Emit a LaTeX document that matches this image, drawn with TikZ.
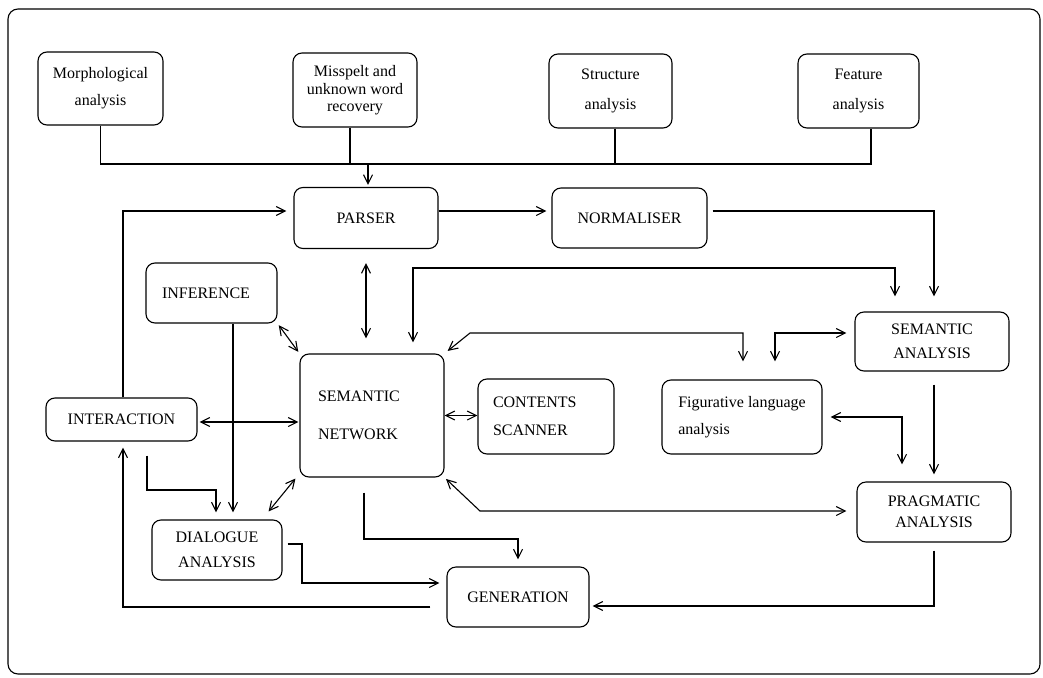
\documentclass[tikz,border=0pt]{standalone}
\usepackage{fontspec}
\setmainfont{Liberation Serif}
\usepackage{tikz}
\usetikzlibrary{arrows.meta,positioning,calc}

\begin{document}
\begin{tikzpicture}[
  x=1pt, y=1pt, line width=1.1pt,
  box/.style={draw, rounded corners=9pt, align=center, inner sep=0pt,
    font=\fontsize{16}{19}\selectfont},
  lbox/.style={box, align=left, inner xsep=16pt},
  flow/.style={-{Straight Barb[length=9pt,width=9pt]}},
  both/.style={{Straight Barb[length=9pt,width=9pt]}-{Straight Barb[length=9pt,width=9pt]}}
]
\useasboundingbox (0,0) rectangle (1043,-677);
\draw[rounded corners=10pt] (8,-9) rectangle (1040,-674);

% input modules
\node[box, minimum width=125pt, minimum height=73pt] (morph) at (100.5,-88.5) {Morphological\\[8pt]analysis};
\node[box, minimum width=124pt, minimum height=74pt] (missp) at (355,-90) {Misspelt and\\[-1pt]unknown word\\[-2pt]recovery};
\node[box, minimum width=123pt, minimum height=74pt] (struct) at (610.5,-91) {Structure\\[11pt]analysis};
\node[box, minimum width=121pt, minimum height=74pt] (feat) at (858.5,-91) {Feature\\[11pt]analysis};

% main chain
\node[box, minimum width=144pt, minimum height=61pt] (parser) at (366,-218) {PARSER};
\node[box, minimum width=155pt, minimum height=60pt] (norm) at (629.5,-218) {NORMALISER};
\node[lbox, text width=99pt, minimum height=60pt] (infer) at (211.5,-293) {INFERENCE};
\node[lbox, inner xsep=18pt, text width=108pt, minimum height=123pt] (semnet) at (372,-415.5) {SEMANTIC\\[19pt]NETWORK};
\node[lbox, inner xsep=15pt, text width=106pt, minimum height=75pt] (contents) at (546,-416.5) {CONTENTS\\[9pt]SCANNER};
\node[box, align=left, minimum width=160pt, minimum height=74pt] (figur) at (742,-417) {Figurative language\\[8pt]analysis};
\node[box, minimum width=154pt, minimum height=59pt] (semana) at (932,-341.5) {SEMANTIC\\[5pt]ANALYSIS};
\node[box, minimum width=151pt, minimum height=43pt] (interact) at (121.5,-419.5) {INTERACTION};
\node[box, minimum width=130pt, minimum height=60pt] (dialog) at (217,-550) {DIALOGUE\\[6pt]ANALYSIS};
\node[box, minimum width=142pt, minimum height=60pt] (gener) at (518,-597) {GENERATION};
\node[box, minimum width=154pt, minimum height=60pt] (pragm) at (934,-512) {PRAGMATIC\\[2pt]ANALYSIS};

% bend points
\coordinate (bus) at (368,-164);
\coordinate (topbend) at (600,-268);
\coordinate (figbend) at (470,-333);
\coordinate (dlgbend) at (180,-490);
\coordinate (pragbend) at (480,-511);
\coordinate (genbend) at (440,-539);
\coordinate (dlgout) at (302,-560);

% input bus
\draw (morph.south) |- (bus) -| ([xshift=12.5pt]feat.south);
\draw ([xshift=-5pt]missp.south) -- ([xshift=-5pt]missp.south |- bus);
\draw ([xshift=4.5pt]struct.south) -- ([xshift=4.5pt]struct.south |- bus);
\draw[flow, shorten >=2pt] (bus) -- (bus |- parser.north);

% connectors
\draw[flow, shorten >=7pt] ([xshift=1.5pt]interact.north) |- ([yshift=7pt]parser.west);
\draw[flow, shorten >=5pt] ([yshift=7pt]parser.east) -- ([yshift=7pt]norm.west);
\draw[flow, shorten <=5pt, shorten >=15pt] ([yshift=7pt]norm.east) -| ([xshift=2pt]semana.north);
\draw[both, shorten <=14pt, shorten >=15pt] (parser.south) -- (parser.south |- semnet.north);
\draw[both, shorten <=11pt, shorten >=15pt] ([xshift=41pt]semnet.north) |- (topbend) -| ([xshift=-37pt]semana.north);
\draw[both, shorten <=4pt, shorten >=18pt] (semnet.north east) -- (figbend) -| ([xshift=1pt]figur.north);
\draw[both, shorten <=18pt, shorten >=8pt] ([xshift=33pt]figur.north) |- ([yshift=8.5pt]semana.west);
\draw[both, shorten <=2pt, shorten >=2pt] (infer.south east) -- (semnet.north west);
\draw[flow, shorten >=7pt] ([xshift=21.5pt]infer.south) -- ([xshift=21.5pt]infer.south |- dialog.north);
\draw[both, shorten <=2pt, shorten >=1pt] ([yshift=-2.5pt]interact.east) -- ([yshift=-2.5pt]interact.east -| semnet.west);
\draw[flow, shorten <=14pt, shorten >=7pt] ([xshift=25.5pt]interact.south) |- (dlgbend) -| ([xshift=-1pt]dialog.north);
\draw[both] ([xshift=-14pt,yshift=8pt]dialog.north east) -- ([xshift=-4pt,yshift=-1pt]semnet.south west);
\draw[both] (semnet.east) -- (semnet.east -| contents.west);
\draw[both, shorten <=2pt, shorten >=10pt] (semnet.south east) -- (pragbend) -- (pragbend -| pragm.west);
\draw[flow, shorten <=15pt, shorten >=7pt] ([xshift=-8pt]semnet.south) |- (genbend) -| (gener.north);
\draw[flow, shorten <=5pt, shorten >=7pt] ([yshift=6pt]dialog.east) -| (dlgout) |- ([yshift=14pt]gener.west);
\draw[flow, shorten <=16pt, shorten >=6pt] ([yshift=-10pt]gener.west) -| ([xshift=1.5pt]interact.south);
\draw[flow, shorten <=13pt, shorten >=7pt] ([xshift=2pt]semana.south) -- ([xshift=2pt]semana.south |- pragm.north);
\draw[both, shorten <=8pt, shorten >=17pt] (figur.east) -| ([xshift=-32pt]pragm.north);
\draw[flow, shorten <=8pt, shorten >=3pt] (pragm.south) |- ([yshift=-9pt]gener.east);
\end{tikzpicture}
\end{document}
